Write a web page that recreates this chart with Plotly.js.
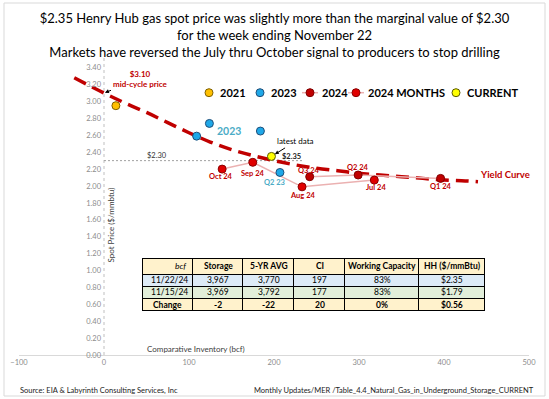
<!DOCTYPE html>
<html>
<head>
<meta charset="utf-8">
<script src="https://cdn.plot.ly/plotly-3.0.1.min.js"></script>
<style>html,body{margin:0;padding:0;background:#fff;}#chart{width:549px;height:399px;}</style>
</head>
<body>
<div id="chart"></div>
<script>
// ---------- DATA ----------
const curveX = [-35, 0, 25, 50, 75, 100, 125, 150, 175, 200, 225, 250, 275, 300, 325, 350, 375, 400, 425, 440];
const curveY = [3.28, 3.10, 2.98, 2.87, 2.75, 2.63, 2.52, 2.43, 2.36, 2.30, 2.25, 2.21, 2.18, 2.15, 2.13, 2.11, 2.09, 2.07, 2.06, 2.05];

const y2021X = [14];
const y2021Y = [2.95];

const y2023X = [109, 124, 184, 207];
const y2023Y = [2.59, 2.74, 2.65, 2.16];
const y2023Labels = ['', '', '', 'Q2 23'];

const q2024Labels = ['Q1 24', 'Q2 24', 'Q3 24'];
const q2024X = [396, 299, 242];
const q2024Y = [2.09, 2.13, 2.11];

const monthLabels = ['Jul 24', 'Aug 24', 'Sep 24', 'Oct 24'];
const monthX = [318, 233, 175, 139];
const monthY = [2.07, 1.99, 2.28, 2.20];

const currentX = [197];
const currentY = [2.35];

const midCycle = 3.10;
const marginal = 2.30;
const marginalLineEnd = 234;

const yTicks = [0, 0.2, 0.4, 0.6, 0.8, 1.0, 1.2, 1.4, 1.6, 1.8, 2.0, 2.2, 2.4, 2.6, 2.8, 3.0, 3.2, 3.4];
const xTicks = [-100, 0, 100, 200, 300, 400, 500];

const tableHeader = ['bcf', 'Storage', '5-YR AVG', 'CI', 'Working Capacity', 'HH ($/mmBtu)'];
const tableCol0 = ['11/22/24', '11/15/24', 'Change'];
const tableStorage = ['3,967', '3,969', '-2'];
const tableAvg = ['3,770', '3,792', '-22'];
const tableCI = ['197', '177', '20'];
const tableWC = ['83%', '83%', '0%'];
const tableHH = ['$2.35', '$1.79', '$0.56'];

// ---------- STYLE / LAYOUT HELPERS ----------
const F = 'Lato, "Open Sans", sans-serif';
const DR = '#C00000';
const TEAL = '#4BACC6';
const L = 19, R = 529, T = 55, B = 355;
const pxX = p => (p - L) / (R - L);
const pxY = p => (B - p) / (B - T);

const traces = [];
traces.push({x: curveX, y: curveY, mode: 'lines', line: {color: DR, width: 3.5, dash: '13px,7px', shape: 'spline'}, hoverinfo: 'skip', showlegend: false});
traces.push({x: q2024X, y: q2024Y, mode: 'lines+markers', line: {color: '#EBB1B1', width: 1.5},
  marker: {size: 8, color: DR, line: {color: '#7F0000', width: 1}}, showlegend: false});
traces.push({x: monthX, y: monthY, mode: 'lines+markers', line: {color: '#EBB1B1', width: 1.5},
  marker: {size: 8, color: '#E00000', line: {color: '#8B0000', width: 1}}, showlegend: false});
traces.push({x: y2021X, y: y2021Y, mode: 'markers', marker: {size: 8, color: '#FFC000', line: {color: '#7F6000', width: 1}}, showlegend: false});
traces.push({x: y2023X, y: y2023Y, mode: 'markers', marker: {size: 8, color: '#1FA8E8', line: {color: '#1F4E79', width: 1}}, showlegend: false});
traces.push({x: currentX, y: currentY, mode: 'markers', marker: {size: 8, color: '#FFFF00', line: {color: '#5A5A00', width: 1}}, showlegend: false});

// table grid (Plotly table); its text is laid over as annotations so the short rows are not clipped
const colW = [51, 50, 51, 51, 74, 66];
const tLeft = 142, tTop = 258, headH = 16, rowH = 12.3;
const fills = ['#DDEBF7', '#E2EFDA', '#FFF2CC'];
const bodyCols = [tableCol0, tableStorage, tableAvg, tableCI, tableWC, tableHH];
const tRight = tLeft + colW.reduce((a, b) => a + b, 0);
traces.push({
  type: 'table',
  domain: {x: [pxX(tLeft), pxX(tRight)], y: [pxY(tTop + headH + 3 * rowH + 2), pxY(tTop)]},
  columnwidth: colW,
  header: {values: tableHeader.map(() => ''), fill: {color: '#FFF2CC'}, line: {color: '#000', width: 1}, height: headH},
  cells: {values: bodyCols.map(c => c.map(() => '')), fill: {color: bodyCols.map(() => fills)}, line: {color: '#000', width: 1}, height: rowH}
});

const ann = [];
const pAnn = (x, y, text, opts) => ann.push(Object.assign({x: x, y: y, xref: 'paper', yref: 'paper', text: text, showarrow: false,
  xanchor: 'center', yanchor: 'middle'}, opts));

// table text
const tFont = {family: F, size: 8.5, color: '#000'};
let cx = tLeft;
tableHeader.forEach((h, i) => {
  const w = colW[i];
  if (i === 0) pAnn(pxX(cx + w - 4), pxY(tTop + headH / 2), '<i>' + h + '</i>', {xanchor: 'right', font: tFont});
  else pAnn(pxX(cx + w / 2), pxY(tTop + headH / 2), '<b>' + h + '</b>', {font: tFont});
  bodyCols[i].forEach((v, r) => {
    const yy = pxY(tTop + headH + rowH * (r + 0.5));
    const txt = r === 2 ? '<b>' + v + '</b>' : v;
    if (i === 0 && r < 2) pAnn(pxX(cx + w - 3), yy, txt, {xanchor: 'right', font: tFont});
    else pAnn(pxX(cx + w / 2), yy, txt, {font: tFont});
  });
  cx += w;
});

// point labels
const lab = (x, y, t, color, dx, dy) => ann.push({x: x, y: y, xref: 'x', yref: 'y', text: '<b>' + t + '</b>', showarrow: false,
  xanchor: 'center', yanchor: 'middle', xshift: dx, yshift: dy, font: {family: F, size: 7.5, color: color}});
const qOff = [[0, -7.7], [0, 7.7], [-1, 6]];
q2024Labels.forEach((t, i) => lab(q2024X[i], q2024Y[i], t, DR, qOff[i][0], qOff[i][1]));
const mOff = [[2, -7.3], [0, -8.3], [0, -11], [-1, -7]];
monthLabels.forEach((t, i) => lab(monthX[i], monthY[i], t, DR, mOff[i][0], mOff[i][1]));
y2023Labels.forEach((t, i) => { if (t) lab(y2023X[i], y2023Y[i], t, TEAL, -5, -10); });

ann.push({x: 147, y: 2.65, xref: 'x', yref: 'y', text: '<b>2023</b>', showarrow: false, font: {family: F, size: 10.5, color: TEAL}});
ann.push({x: 472, y: 2.14, xref: 'x', yref: 'y', text: '<b>Yield Curve</b>', showarrow: false, font: {family: F, size: 9.5, color: DR}});
ann.push({x: 62.7, y: marginal, xref: 'x', yref: 'y', text: '$' + marginal.toFixed(2), showarrow: false, yshift: 5, font: {family: F, size: 7.5, color: '#333'}});
ann.push({x: currentX[0], y: currentY[0], xref: 'x', yref: 'y', text: '<b>$' + currentY[0].toFixed(2) + '</b>', showarrow: false, xanchor: 'left', xshift: 9, font: {family: F, size: 7.5, color: '#222'}});
ann.push({x: currentX[0], y: currentY[0], xref: 'x', yref: 'y', text: 'latest data', showarrow: true, arrowhead: 2, arrowsize: 0.8, arrowwidth: 1, arrowcolor: '#000',
  ax: 24, ay: -15, standoff: 4, font: {family: F, size: 8, color: '#000'}});
ann.push({x: 0, y: midCycle, xref: 'x', yref: 'y', text: '<b>$' + midCycle.toFixed(2) + '</b><br><b>mid-cycle price</b>', showarrow: true, arrowhead: 2, arrowsize: 0.8, arrowwidth: 1, arrowcolor: '#000',
  ax: 36, ay: -14, standoff: 1, font: {family: F, size: 8, color: DR}});

// axis titles
pAnn(pxX(110), pxY(225.5), 'Spot Price ($/mmbtu)', {textangle: -90, font: {family: F, size: 8, color: '#404040'}});
pAnn(pxX(196), pxY(349), 'Comparative Inventory (bcf)', {font: {family: F, size: 8, color: '#404040'}});

// source notes
pAnn(pxX(17.5), pxY(390), 'Source: EIA &amp; Labyrinth Consulting Services, Inc', {xanchor: 'left', font: {family: F, size: 7.5, color: '#222'}});
pAnn(pxX(536), pxY(390), 'Monthly Updates/MER /Table_4.4_Natural_Gas_in_Underground_Storage_CURRENT', {xanchor: 'right', font: {family: F, size: 7.5, color: '#222'}});

// manual legend
const legY = pxY(92.7);
const legend = [
  {name: '2021', m: 209, t: 218, fill: '#FFC000', edge: '#7F6000', line: false},
  {name: '2023', m: 260, t: 269, fill: '#1FA8E8', edge: '#1F4E79', line: false},
  {name: '2024', m: 310, t: 320, fill: DR, edge: '#7F0000', line: true},
  {name: '2024 MONTHS', m: 356, t: 366, fill: '#E00000', edge: '#8B0000', line: true},
  {name: 'CURRENT', m: 456, t: 465, fill: '#FFFF00', edge: '#5A5A00', line: false}
];
const shapes = [];
legend.forEach(it => {
  if (it.line) shapes.push({type: 'line', xref: 'paper', yref: 'paper', xsizemode: 'pixel', ysizemode: 'pixel', xanchor: pxX(it.m), yanchor: legY,
    x0: -8, x1: 8, y0: 0, y1: 0, line: {color: '#EBB1B1', width: 1.5}});
  shapes.push({type: 'circle', xref: 'paper', yref: 'paper', xsizemode: 'pixel', ysizemode: 'pixel', xanchor: pxX(it.m), yanchor: legY,
    x0: -4, x1: 4, y0: -4, y1: 4, fillcolor: it.fill, line: {color: it.edge, width: 1}});
  pAnn(pxX(it.t), legY, '<b>' + it.name + '</b>', {xanchor: 'left', font: {family: F, size: 11, color: '#000'}});
});

// y axis dotted line, marginal line, frame
shapes.push({type: 'line', xref: 'x', yref: 'paper', x0: 0, x1: 0, y0: 0, y1: 1, line: {color: '#BFBFBF', width: 1, dash: 'dot'}, layer: 'below'});
shapes.push({type: 'line', xref: 'x', yref: 'y', x0: 0, x1: marginalLineEnd, y0: marginal, y1: marginal, line: {color: '#A0A0A0', width: 1, dash: '2px,2px'}, layer: 'below'});
shapes.push({type: 'rect', xref: 'paper', yref: 'paper', x0: pxX(4), x1: pxX(545), y0: pxY(396), y1: pxY(3), line: {color: '#D9D9D9', width: 1}});

const layout = {
  width: 549, height: 399,
  margin: {l: L, r: 549 - R, t: T, b: 399 - B},
  paper_bgcolor: '#fff', plot_bgcolor: '#fff',
  showlegend: false,
  title: {text: '$2.35 Henry Hub gas spot price was slightly more than the marginal value of $2.30<br>for the week ending November 22<br>Markets have reversed the July thru October signal to producers to stop drilling',
    font: {family: F, size: 13, color: '#000'}, x: 0.5, xanchor: 'center', y: 1 - 23 / 399, yanchor: 'top'},
  xaxis: {range: [-100, 500], tickvals: xTicks, showgrid: false, zeroline: false, showline: true, linecolor: '#D9D9D9', linewidth: 1,
    ticks: '', tickfont: {family: F, size: 7.5, color: '#8C8C8C'}},
  yaxis: {range: [0, 3.55], tickvals: yTicks, tickformat: '.2f', tickprefix: '$', anchor: 'free', position: 100 / 600, ticklabelstandoff: 3,
    showgrid: false, zeroline: false, showline: false, ticks: '', tickfont: {family: F, size: 7.5, color: '#8C8C8C'}},
  annotations: ann,
  shapes: shapes
};

Plotly.newPlot('chart', traces, layout, {displayModeBar: false, staticPlot: true});
</script>
</body>
</html>
